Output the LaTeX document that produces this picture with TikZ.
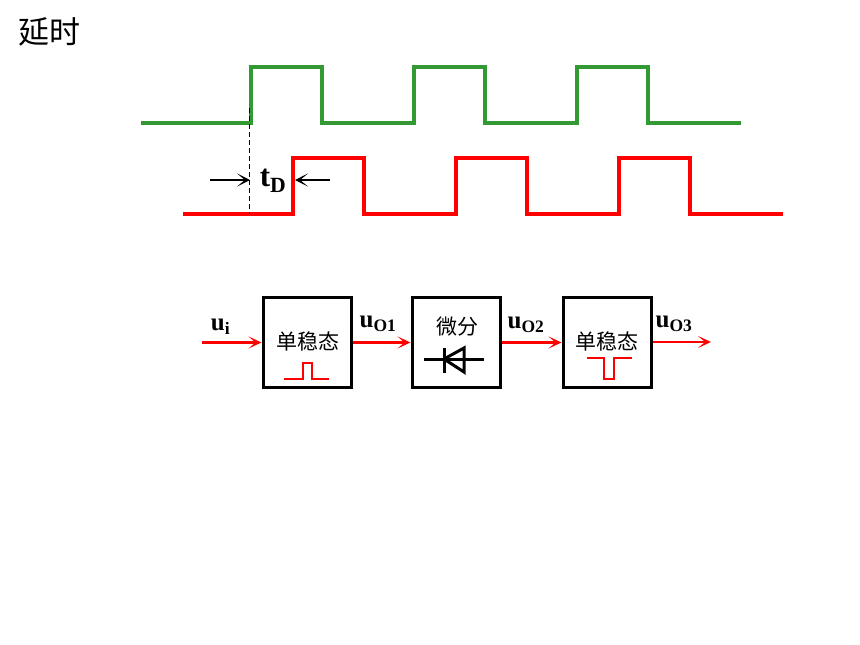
\documentclass[tikz,border=0pt]{standalone}
\usepackage{fontspec}
\setmainfont{Liberation Serif}
\newfontfamily\cjk{Noto Sans CJK SC}
\usetikzlibrary{arrows.meta, positioning, calc}
\tikzset{
  wave/.style={line width=4.8pt, line join=miter},
  blockbox/.style={draw=black, line width=3pt, minimum width=88pt, minimum height=90pt, inner sep=0pt},
  sigarrow/.style={draw=red, line width=2.6pt, -{Stealth[length=13pt,width=12pt,inset=7pt]}},
  siglabel/.style={font=\fontsize{25}{25}\selectfont\bfseries, inner sep=0pt},
  blocktext/.style={font=\fontsize{21}{21}\selectfont\cjk, inner sep=0pt},
  measure/.style={draw=black, line width=2.6pt, -{Stealth[length=13pt,width=13pt,inset=8pt]}},
  pulse/.style={draw=red, line width=2.8pt},
  diodeline/.style={draw=black, line width=3pt},
}
\begin{document}
\begin{tikzpicture}[x=1pt,y=-1pt]
  \useasboundingbox (0,0) rectangle (860,645);
  \node[font=\fontsize{31}{31}\selectfont\cjk, inner sep=0pt] (title) at (49,32) {延时};
  % top trace
  \draw[wave, draw={rgb,255:red,51;green,153;blue,51}]
    (141,123) -- (251,123) -- (251,67) -- (322,67) -- (322,123)
    -- (414,123) -- (414,67) -- (485,67) -- (485,123)
    -- (577,123) -- (577,67) -- (648,67) -- (648,123) -- (741,123);
  % delayed trace
  \draw[wave, draw=red]
    (183,214) -- (293,214) -- (293,158) -- (364,158) -- (364,214)
    -- (456,214) -- (456,158) -- (527,158) -- (527,214)
    -- (619,214) -- (619,158) -- (690,158) -- (690,214) -- (783,214);
  \coordinate (riseA) at (249.5,108);
  \coordinate (riseB) at (249.5,214);
  \draw[dash pattern=on 5pt off 3pt, line width=1.8pt] (riseA) -- (riseB);
  \coordinate (leftstart) at (210,180);
  \coordinate (leftend) at (250,180);
  \coordinate (rightstart) at (330,180);
  \coordinate (rightend) at (295,180);
  \draw[measure] (leftstart) -- (leftend);
  \draw[measure] (rightstart) -- (rightend);
  \node[font=\fontsize{31}{31}\selectfont\bfseries, inner sep=0pt] (td) at (273,181) {t\textsubscript{D}};
  % blocks
  \node[blockbox] (monoA) at (307,342.5) {};
  \node[blockbox] (diff) at (456,342.5) {};
  \node[blockbox] (monoB) at (607,342.5) {};
  \node[blocktext] (monoAtext) at (308,341) {单稳态};
  \node[blocktext] (difftext) at (457,327) {微分};
  \node[blocktext] (monoBtext) at (607,341) {单稳态};
  % little pulses
  \draw[pulse] (284,379) -- (303,379) -- (303,363) -- (312,363) -- (312,379) -- (329,379);
  \draw[pulse] (587,358) -- (604,358) -- (604,379) -- (614,379) -- (614,358) -- (632,358);
  % diode
  \draw[diodeline] (424,359) -- (484,359);
  \draw[diodeline] (444,348) -- (444,373);
  \draw[diodeline] (444,359) -- (464,348) -- (464,372) -- cycle;
  % signals
  \coordinate (input) at (202,342.5);
  \coordinate (output) at (711,342);
  \draw[sigarrow] (input) -- (monoA.west);
  \draw[sigarrow] (monoA.east) -- (diff.west);
  \draw[sigarrow] (diff.east) -- (monoB.west);
  \draw[sigarrow] (monoB.east |- output) -- (output);
  \node[siglabel] (ui) at (220.5,327) {u\textsubscript{i}};
  \node[siglabel] (uoa) at (378,324) {u\textsubscript{O1}};
  \node[siglabel] (uob) at (526,325) {u\textsubscript{O2}};
  \node[siglabel] (uoc) at (674,324) {u\textsubscript{O3}};
\end{tikzpicture}
\end{document}
